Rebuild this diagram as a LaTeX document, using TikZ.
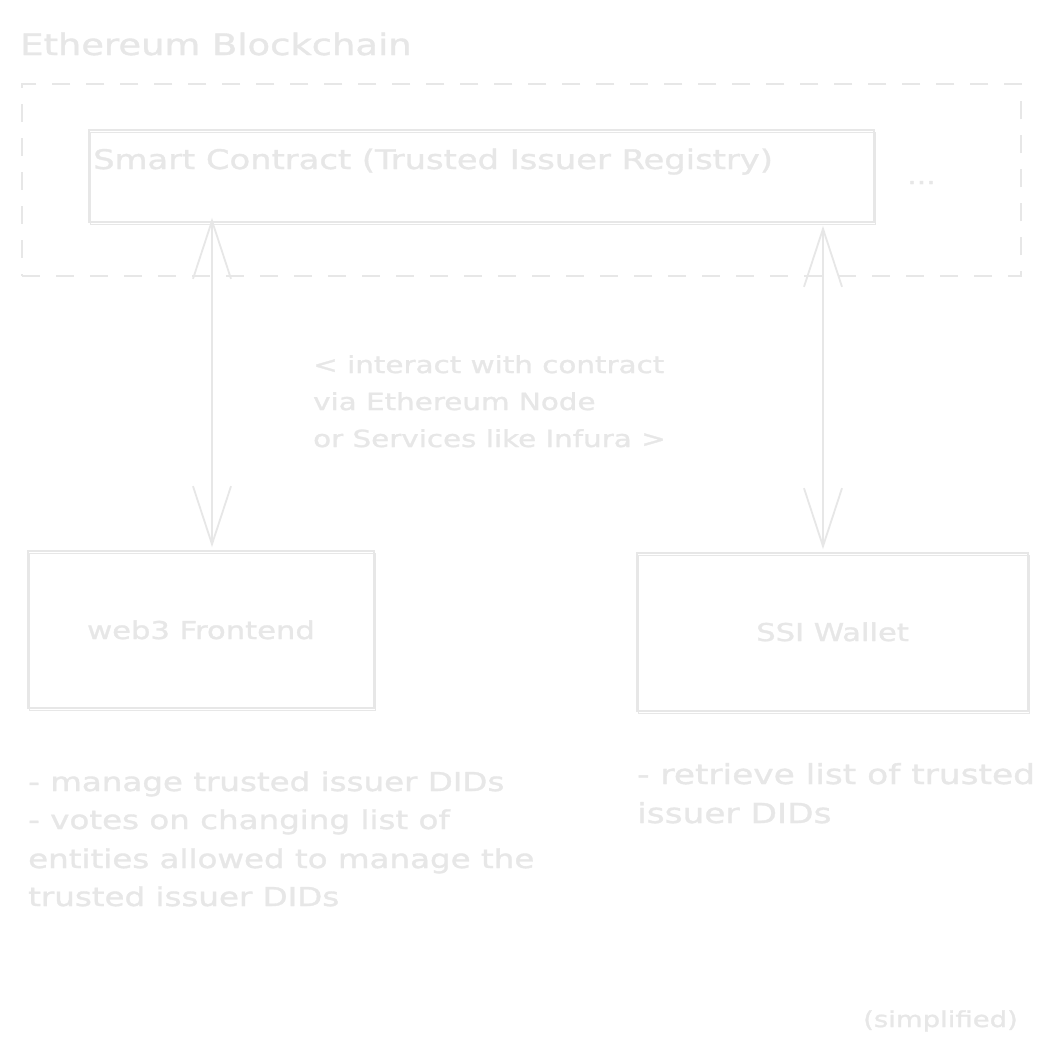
\documentclass[tikz,border=0pt]{standalone}
\usepackage{fontspec}
\usetikzlibrary{arrows.meta,calc}
\newfontfamily\hand[FakeStretch=1.25,FakeBold=1.2]{DejaVu Sans}
\definecolor{ink}{RGB}{231,231,231}
\tikzset{
  every node/.style={text=ink, inner sep=0pt, font=\hand},
  sketchbox/.style={draw=ink, line width=1.8pt,
    postaction={draw=ink, line width=1pt, transform canvas={shift={(1.8pt,-2pt)}}}},
  chainframe/.style={draw=ink, line width=2pt, dash pattern=on 18pt off 16pt},
  biarrow/.style={draw=ink, line width=1.8pt,
    {Straight Barb[length=58pt,width=38pt]}-{Straight Barb[length=58pt,width=38pt]}},
  titletext/.style={font=\hand\fontsize{29.5}{36}\selectfont, anchor=base west},
  boxtext/.style={font=\hand\fontsize{27}{36}\selectfont, anchor=base west},
  labeltext/.style={font=\hand\fontsize{24.5}{36}\selectfont, anchor=base},
  midtext/.style={font=\hand\fontsize{23.5}{36}\selectfont, anchor=base west},
  notetext/.style={font=\hand\fontsize{26}{38}\selectfont, anchor=base west},
  smalltext/.style={font=\hand\fontsize{22}{30}\selectfont, anchor=base west},
}
\begin{document}
\begin{tikzpicture}[x=1pt,y=-1pt]
\useasboundingbox[fill=white] (0,0) rectangle (1056,1061);

% title
\node[titletext] (title) at (20,55) {Ethereum Blockchain};

% dashed blockchain frame
\node[chainframe, minimum width=999pt, minimum height=192pt] (frame) at (521.5,180) {};

% smart contract box
\node[sketchbox, minimum width=785pt, minimum height=92pt] (sc) at (481.5,176) {};
\node[boxtext] (sclabel) at (93,169) {Smart Contract (Trusted Issuer Registry)};
\node[font=\hand\fontsize{24}{28}\selectfont, anchor=base west] (dots) at (907,184) {...};

% lower boxes
\node[sketchbox, minimum width=346pt, minimum height=157pt] (web3) at (201,629.5) {};
\node[labeltext] (web3label) at (201,639) {web3 Frontend};
\node[sketchbox, minimum width=391pt, minimum height=158pt] (ssi) at (832.5,632) {};
\node[labeltext] (ssilabel) at (832.5,641) {SSI Wallet};

% arrows
\draw[biarrow] ([xshift=11pt,yshift=5pt]sc.south -| web3.north) -- ([xshift=11pt,yshift=3pt]web3.north);
\draw[biarrow] ([xshift=-9.5pt,yshift=-3pt]sc.south -| ssi.north) -- ([xshift=-9.5pt,yshift=3pt]ssi.north);

% middle text
\node[midtext] (m1) at (313,373) {< interact with contract};
\node[midtext] (m2) at (313,410) {via Ethereum Node};
\node[midtext] (m3) at (313,447) {or Services like Infura >};

% notes left
\node[notetext] (n1) at (28,791) {- manage trusted issuer DIDs};
\node[notetext] (n2) at (28,829) {- votes on changing list of};
\node[notetext] (n3) at (28,868) {entities allowed to manage the};
\node[notetext] (n4) at (28,906) {trusted issuer DIDs};

% notes right
\node[notetext,font=\hand\fontsize{27.5}{38}\selectfont] (r1) at (637,784) {- retrieve list of trusted};
\node[notetext,font=\hand\fontsize{27.5}{38}\selectfont] (r2) at (637,823) {issuer DIDs};

% footer
\node[smalltext] (simp) at (863,1027) {(simplified)};
\end{tikzpicture}
\end{document}
